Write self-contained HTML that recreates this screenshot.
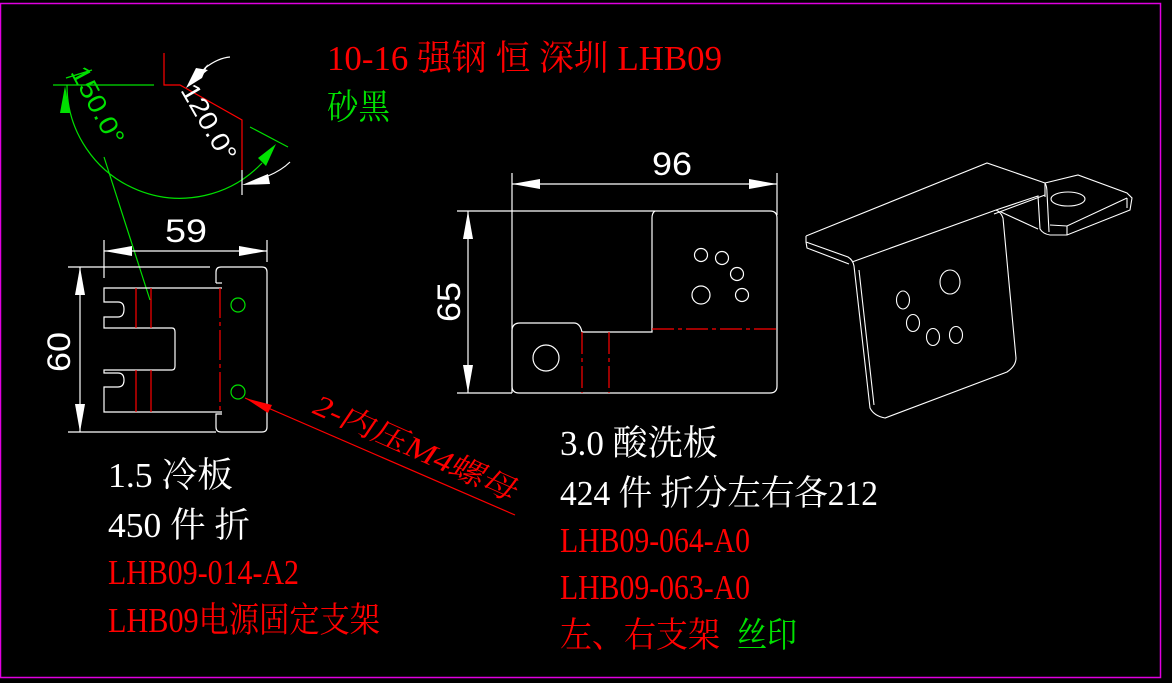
<!DOCTYPE html>
<html><head><meta charset="utf-8"><style>
html,body{margin:0;padding:0;background:#000;}
svg{display:block;}
text{font-family:"Liberation Serif","Noto Serif CJK SC",serif;}
</style></head><body>
<svg width="1172" height="683" viewBox="0 0 1172 683" xmlns="http://www.w3.org/2000/svg">
<rect width="1172" height="683" fill="#000"/>
<rect x="0.5" y="3.5" width="1160" height="674" fill="none" stroke="#e000e0" stroke-width="1.5"/>

<g fill="none" stroke-width="1.2">
<line x1="53" y1="85" x2="154" y2="85" stroke="#00e000"/>
<polyline points="164,53 164,85 180,85 242,120 242,170" stroke="#ff0000"/>
<path d="M67,85 A113,113 0 0 0 262,163" stroke="#00e000"/>
<line x1="250" y1="127" x2="288" y2="147" stroke="#00e000"/>
<line x1="66" y1="78" x2="92" y2="70" stroke="#00e000"/>
<line x1="104" y1="157" x2="150" y2="300" stroke="#00e000"/>
<path d="M205,68 Q218,58 230,57" stroke="#fff"/>
<path d="M268,176 Q282,170 290,162" stroke="#fff"/>
<line x1="242" y1="170" x2="242" y2="195" stroke="#fff"/>
</g>
<polygon points="65,86 60,113 70,113" fill="#00e000"/>
<polygon points="276,144 258,158 266,166" fill="#00e000"/>
<polygon points="186,88 208,64 202,78" fill="#fff"/>
<polygon points="186,88 196,68 208,70" fill="#fff"/>
<polygon points="242,185 268,174 270,184" fill="#fff"/>
<text transform="translate(70,72) rotate(62)" font-size="26" fill="#00e000" textLength="85" lengthAdjust="spacingAndGlyphs" style="font-family:'Liberation Sans',sans-serif">150.0°</text>
<text transform="translate(180,90) rotate(60)" font-size="26" fill="#fff" textLength="85" lengthAdjust="spacingAndGlyphs" style="font-family:'Liberation Sans',sans-serif">120.0°</text>

<g fill="none" stroke="#fff" stroke-width="1.2">
<line x1="104" y1="240" x2="104" y2="278"/>
<line x1="267" y1="240" x2="267" y2="262"/>
<line x1="104" y1="251" x2="267" y2="251"/>
<line x1="68" y1="267" x2="210" y2="267"/>
<line x1="68" y1="432" x2="216" y2="432"/>
<line x1="80" y1="267" x2="80" y2="432"/>
<path d="M216,283 L216,272 Q216,267 221,267 L262,267 Q267,267 267,272 L267,427 Q267,432 262,432 L221,432 Q216,432 216,427 L216,414 L222,414"/>
<path d="M222,288 L104,288 L104,302 L118,302 Q124,302 124,309 Q124,317 118,317 L104,317 L104,328 L172,328 Q175,328 175,332 L175,366 Q175,370 172,370 L104,370 L104,373 L118,373 Q124,373 124,380 Q124,387 118,387 L104,387 L104,412 L222,412"/>
<line x1="216" y1="283" x2="222" y2="283"/>
</g>
<g stroke="#ff0000" stroke-width="1.2">
<line x1="136" y1="288" x2="136" y2="328"/><line x1="151" y1="288" x2="151" y2="328"/>
<line x1="136" y1="370" x2="136" y2="412"/><line x1="151" y1="370" x2="151" y2="412"/>
<line x1="220" y1="288" x2="220" y2="412" stroke-dasharray="30,4,4,4"/>
<line x1="245" y1="398" x2="515" y2="515"/>
</g>
<polygon points="245,398 272,405 268,413" fill="#ff0000"/>
<circle cx="238" cy="305" r="7" fill="none" stroke="#00e000" stroke-width="1.2"/>
<circle cx="238" cy="392" r="7" fill="none" stroke="#00e000" stroke-width="1.2"/>
<polygon points="104,251 132,246 132,256" fill="#fff"/>
<polygon points="267,251 239,246 239,256" fill="#fff"/>
<polygon points="80,267 75,295 85,295" fill="#fff"/>
<polygon points="80,432 75,404 85,404" fill="#fff"/>
<text x="165" y="242" font-size="32" fill="#fff" textLength="42" lengthAdjust="spacingAndGlyphs" style="font-family:'Liberation Sans',sans-serif">59</text>
<text transform="translate(70,372) rotate(-90)" font-size="32" fill="#fff" textLength="40" lengthAdjust="spacingAndGlyphs" style="font-family:'Liberation Sans',sans-serif">60</text>
<text transform="translate(310,412) rotate(24) skewX(-10)" font-size="30" fill="#ff0000" textLength="220" lengthAdjust="spacingAndGlyphs">2-内压M4螺母</text>

<g fill="none" stroke="#fff" stroke-width="1.2">
<line x1="512" y1="173" x2="512" y2="393"/>
<line x1="777" y1="173" x2="777" y2="215"/>
<line x1="512" y1="184" x2="777" y2="184"/>
<line x1="457" y1="211" x2="770" y2="211"/>
<line x1="457" y1="393" x2="512" y2="393"/>
<line x1="468" y1="211" x2="468" y2="393"/>
<path d="M655,211 Q652,213 652,218 L652,332 L582,332 Q580,323 574,323 L520,323 Q512,323 512,331 L512,386 Q512,393 519,393 L770,393 Q777,393 777,386 L777,218 Q777,211 770,211"/>
<circle cx="546" cy="358" r="13"/>
<circle cx="701" cy="255" r="6.5"/><circle cx="722" cy="258" r="6.5"/>
<circle cx="737" cy="274" r="6.5"/><circle cx="701" cy="295" r="9"/>
<circle cx="742" cy="295" r="6.5"/>
</g>
<g stroke="#ff0000" stroke-width="1.2" stroke-dasharray="22,4,4,4">
<line x1="652" y1="329" x2="777" y2="329"/>
<line x1="582" y1="332" x2="582" y2="393"/>
<line x1="609" y1="332" x2="609" y2="393"/>
</g>
<polygon points="512,184 540,179 540,189" fill="#fff"/>
<polygon points="777,184 749,179 749,189" fill="#fff"/>
<polygon points="468,211 463,239 473,239" fill="#fff"/>
<polygon points="468,393 463,365 473,365" fill="#fff"/>
<text x="652" y="175" font-size="32" fill="#fff" textLength="40" lengthAdjust="spacingAndGlyphs" style="font-family:'Liberation Sans',sans-serif">96</text>
<text transform="translate(460,322) rotate(-90)" font-size="32" fill="#fff" textLength="40" lengthAdjust="spacingAndGlyphs" style="font-family:'Liberation Sans',sans-serif">65</text>

<g fill="none" stroke="#fff" stroke-width="1.1">
<path d="M806,236 L987,163 L1045,183 L1045,197"/>
<path d="M806,236 L806,242 L848,257 Q853,260 854,266 L870,408 Q874,416 885,418 L1007,372 Q1016,366 1016,358 L1003,218 Q1001,212 996,210"/>
<path d="M806,242 L807,248 L849,264"/>
<path d="M852,262 L996,210 L1038,196 L1040,229 Q1043,234 1050,235 L1067,235 L1130,210 L1132,198 L1127,193 L1078,175 L1045,183"/>
<path d="M1045,183 Q1047,186 1047,193 L1049,232"/>
<path d="M1001,212 L1038,229"/>
<path d="M994,214 L1045,195"/>
<line x1="1067" y1="226" x2="1067" y2="235"/>
<line x1="1127" y1="198" x2="1127" y2="208"/>
<path d="M1050,225 L1067,226 L1127,198"/>
<path d="M859,270 L874,405"/>
<ellipse cx="1068" cy="199" rx="17" ry="7"/>
<ellipse cx="950" cy="282" rx="10" ry="12"/>
<ellipse cx="903" cy="300" rx="6.5" ry="9"/>
<ellipse cx="913" cy="323" rx="6.5" ry="8.5"/>
<ellipse cx="933" cy="337" rx="6.5" ry="8.5"/>
<ellipse cx="956" cy="335" rx="6.5" ry="8.5"/>
</g>

<g font-size="35">
<text x="327" y="70" fill="#ff0000" textLength="395" lengthAdjust="spacingAndGlyphs">10-16 强钢 恒 深圳  LHB09</text>
<text x="327" y="119" fill="#00e000" textLength="63" lengthAdjust="spacingAndGlyphs">砂黑</text>
<text x="108" y="487" fill="#fff" textLength="125" lengthAdjust="spacingAndGlyphs">1.5 冷板</text>
<text x="108" y="537" fill="#fff" textLength="142" lengthAdjust="spacingAndGlyphs">450 件 折</text>
<text x="108" y="584" fill="#ff0000" textLength="191" lengthAdjust="spacingAndGlyphs">LHB09-014-A2</text>
<text x="108" y="632" fill="#ff0000" textLength="272" lengthAdjust="spacingAndGlyphs">LHB09电源固定支架</text>
<text x="560" y="455" fill="#fff" textLength="158" lengthAdjust="spacingAndGlyphs">3.0 酸洗板</text>
<text x="560" y="505" fill="#fff" textLength="318" lengthAdjust="spacingAndGlyphs">424 件 折分左右各212</text>
<text x="560" y="552" fill="#ff0000" textLength="190" lengthAdjust="spacingAndGlyphs">LHB09-064-A0</text>
<text x="560" y="599" fill="#ff0000" textLength="190" lengthAdjust="spacingAndGlyphs">LHB09-063-A0</text>
<text x="560" y="647" fill="#ff0000" textLength="160" lengthAdjust="spacingAndGlyphs">左、右支架</text>
<text x="737" y="647" fill="#00e000" textLength="60" lengthAdjust="spacingAndGlyphs">丝印</text>
</g>
</svg>
</body></html>
